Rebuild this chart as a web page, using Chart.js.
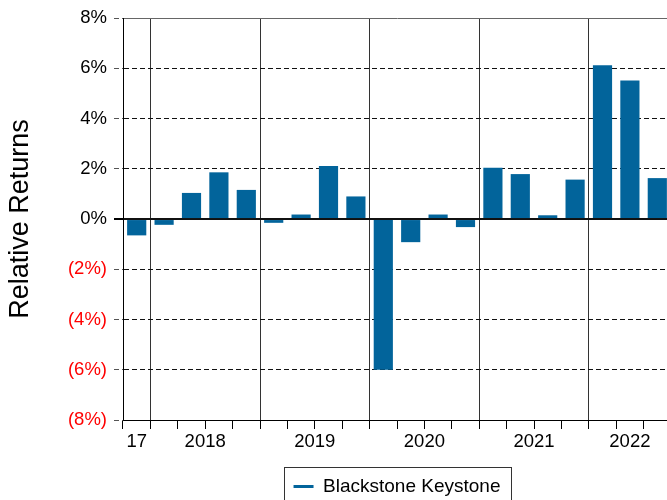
<!DOCTYPE html>
<html>
<head>
<meta charset="utf-8">
<script src="https://cdn.jsdelivr.net/npm/chart.js@4.4.0/dist/chart.umd.min.js"></script>
<style>
  html, body { margin: 0; padding: 0; overflow: hidden; background: #fff; }
  #wrap { position: absolute; left: 0; top: 0; width: 672px; height: 506px; }
</style>
</head>
<body>
<div id="wrap"><canvas id="chartId"></canvas></div>
<script>
const quarters = [
    'Q4 2017',
    'Q1 2018', 'Q2 2018', 'Q3 2018', 'Q4 2018',
    'Q1 2019', 'Q2 2019', 'Q3 2019', 'Q4 2019',
    'Q1 2020', 'Q2 2020', 'Q3 2020', 'Q4 2020',
    'Q1 2021', 'Q2 2021', 'Q3 2021', 'Q4 2021',
    'Q1 2022', 'Q2 2022', 'Q3 2022'
];
const returns = [
    -0.65,
    -0.23, 1.04, 1.86, 1.16,
    -0.15, 0.18, 2.11, 0.90,
    -6.00, -0.92, 0.18, -0.32,
    2.04, 1.79, 0.15, 1.57,
    6.12, 5.52, 1.63
];
const yearLabels = ['17', '2018', '2019', '2020', '2021', '2022'];
const seriesName = 'Blackstone Keystone';

const barColor = '#02649b';

// group the quarters by year: where each year starts and where its label sits
const years = [];
quarters.forEach((q, i) => {
    const yr = q.split(' ')[1];
    const last = years[years.length - 1];
    if (!last || last.year !== yr) years.push({ year: yr, first: i, last: i });
    else last.last = i;
});
const yearStarts = years.map(y => y.first).filter(i => i > 0);
const yearMids = years.map(y => (y.first + y.last + 1) / 2);

Chart.defaults.font.family = "'Liberation Sans', Arial, sans-serif";
Chart.defaults.color = '#000';

// thin frame round the legend item
const legendFrame = {
    id: 'legendFrame',
    afterDraw(chart) {
        const hb = chart.legend && chart.legend.legendHitBoxes[0];
        if (!hb) return;
        const ctx = chart.ctx;
        ctx.save();
        ctx.strokeStyle = '#333';
        ctx.lineWidth = 1;
        ctx.strokeRect(Math.round(hb.left - 10) + 0.5, Math.round(hb.top - 10) + 0.5,
            Math.round(hb.width + 20), Math.round(hb.height + 20));
        ctx.restore();
    }
};

const solidY = v => v === 0 || v === 8 || v === -8;

const ctx = document.getElementById('chartId').getContext('2d');

const chart = new Chart(ctx, {
    type: 'bar',
    data: {
        labels: quarters,
        datasets: [{
            label: seriesName,
            data: returns,
            backgroundColor: barColor,
            borderWidth: 0,
            barPercentage: 0.7,
            categoryPercentage: 1,
            xAxisID: 'x',
            yAxisID: 'y'
        }]
    },
    options: {
        responsive: true,
        maintainAspectRatio: false,
        animation: false,
        layout: { padding: { top: 17, left: 0, right: 1, bottom: 0 } },
        scales: {
            x: {
                type: 'category',
                position: 'bottom',
                weight: 0,
                offset: true,
                grid: {
                    offset: true,
                    color: c => yearStarts.includes(c.index) ? '#333' : 'rgba(0,0,0,0)',
                    tickColor: '#000',
                    tickLength: 9,
                    lineWidth: 1
                },
                border: { display: true, color: '#000', width: 1 },
                ticks: { display: false, autoSkip: false }
            },
            xl: {
                type: 'linear',
                position: 'bottom',
                weight: 1,
                offset: false,
                min: 0,
                max: quarters.length,
                grid: { display: false, drawTicks: false, offset: false },
                border: { display: false },
                afterBuildTicks: s => { s.ticks = yearMids.map(v => ({ value: v })); },
                ticks: {
                    autoSkip: false,
                    maxRotation: 0,
                    padding: 2,
                    font: { size: 18.5 },
                    color: '#000',
                    callback: (v, i) => yearLabels[i]
                },
                afterFit: s => { s.height = 38; }
            },
            y: {
                min: -8,
                max: 8,
                ticks: {
                    stepSize: 2,
                    padding: 7,
                    font: { size: 18.5 },
                    color: c => c.tick && c.tick.value < 0 ? '#ff0000' : '#000',
                    callback: v => v < 0 ? '(' + (-v) + '%)' : v + '%'
                },
                grid: {
                    color: c => c.tick && c.tick.value === 8 ? '#666' : '#111',
                    lineWidth: c => c.tick && c.tick.value === 0 ? 2 : 1,
                    tickLength: 9,
                    tickColor: c => c.tick && c.tick.value === 0 ? '#000' : '#555',
                    tickBorderDash: c => c.tick && c.tick.value === 0 ? [] : [5, 3]
                },
                border: {
                    display: true,
                    color: '#000',
                    width: 1,
                    dash: c => c.tick && solidY(c.tick.value) ? [] : [5, 3]
                },
                title: {
                    display: true,
                    text: 'Relative Returns',
                    font: { size: 27 },
                    color: '#000',
                    padding: { top: 4, bottom: 0 }
                },
                afterFit: s => { s.width = 123; }
            }
        },
        plugins: {
            tooltip: { enabled: false },
            legend: {
                position: 'bottom',
                fullSize: false,
                labels: {
                    usePointStyle: true,
                    pointStyle: 'line',
                    pointStyleWidth: 20,
                    padding: 10,
                    font: { size: 19 },
                    color: '#000',
                    generateLabels: ch => Chart.defaults.plugins.legend.labels.generateLabels(ch)
                        .map(l => Object.assign(l, { lineWidth: 3, strokeStyle: barColor, pointStyle: 'line' }))
                }
            }
        }
    },
    plugins: [legendFrame]
});
</script>
</body>
</html>
